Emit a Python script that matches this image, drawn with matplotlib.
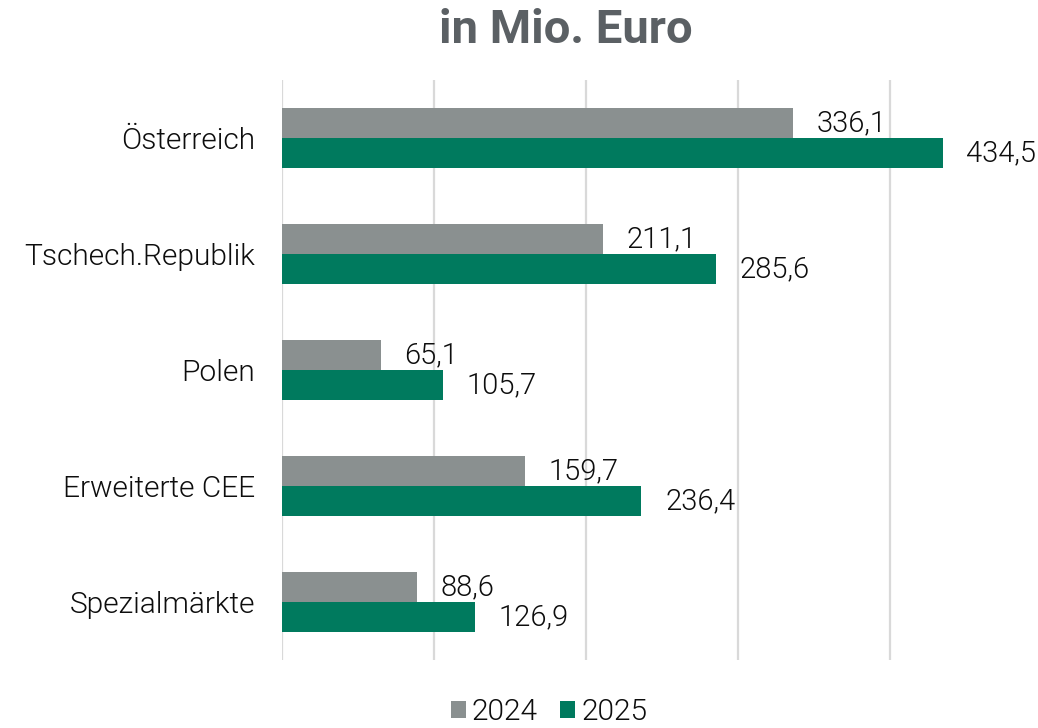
import matplotlib.pyplot as plt
import numpy as np

categories = ["Österreich", "Tschech.Republik", "Polen", "Erweiterte CEE", "Spezialmärkte"]
values_2024 = [336.1, 211.1, 65.1, 159.7, 88.6]
values_2025 = [434.5, 285.6, 105.7, 236.4, 126.9]
series_labels = ["2024", "2025"]

gray = "#8a9090"
green = "#007a5e"
text_color = "#0d0d0d"

plt.rcParams["font.family"] = ["Roboto", "DejaVu Sans"]

fig = plt.figure(figsize=(10.38, 7.28), dpi=100)
ax = fig.add_axes([282 / 1038, 68 / 728, 748 / 1038, 580 / 728])

y = np.arange(len(categories))
h = 0.259
b1 = ax.barh(y - h / 2, values_2024, height=h, color=gray, label=series_labels[0], zorder=3)
b2 = ax.barh(y + h / 2, values_2025, height=h, color=green, label=series_labels[1], zorder=3)

for bars, vals in ((b1, values_2024), (b2, values_2025)):
    for bar, v in zip(bars, vals):
        ax.annotate(f"{v:.1f}".replace(".", ","),
                    (bar.get_width(), bar.get_y() + bar.get_height() / 2),
                    xytext=(17, 0), textcoords="offset points",
                    ha="left", va="center", fontsize=21, fontweight=300,
                    color=text_color)

ax.set_xlim(0, 492)
ax.set_ylim(len(categories) - 0.5, -0.5)
ax.set_xticks([0, 100, 200, 300, 400])
ax.xaxis.grid(True, color="#d9d9d9", linewidth=1.6, zorder=0)
ax.tick_params(axis="x", length=0, labelbottom=False)
ax.tick_params(axis="y", length=0, pad=19.5)
ax.set_yticks(y, labels=categories, fontsize=21.5, fontweight=300, color=text_color)
for s in ax.spines.values():
    s.set_visible(False)

fig.text(566 / 1038, 1 - 30 / 728, "in Mio. Euro", ha="center", va="center",
         fontsize=34, fontweight="bold", color="#5b6064")

leg = fig.legend(handles=[b1, b2], labels=series_labels, loc="center",
                 bbox_to_anchor=(549 / 1038, 1 - 712 / 728), ncol=2, frameon=False,
                 fontsize=21.5, handlelength=0.5, handleheight=0.5,
                 handletextpad=0.2, columnspacing=0.75)
for t in leg.get_texts():
    t.set_fontweight(300)
    t.set_color(text_color)

fig.savefig("out.png", dpi=100)
